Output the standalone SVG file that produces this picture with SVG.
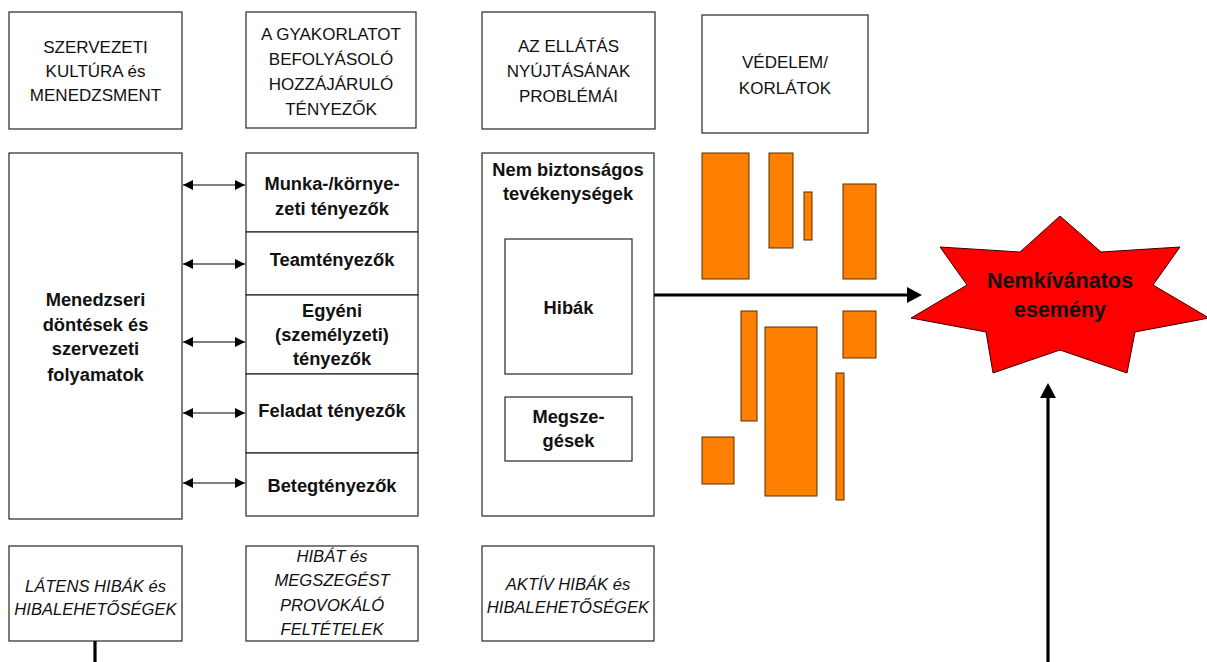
<svg xmlns="http://www.w3.org/2000/svg" width="1207" height="662" viewBox="0 0 1207 662">
  <defs>
    <style>
      .box { fill: #ffffff; stroke: #262626; stroke-width: 1.2; }
      .bar { fill: #ff8000; stroke: #5a2e00; stroke-width: 1; }
      .star { fill: #ff0000; stroke: #3a0000; stroke-width: 1; }
      .hd { font-family: "Liberation Sans", Arial, sans-serif; font-size: 17px; fill: #111; text-anchor: middle; }
      .bd { font-family: "Liberation Sans", Arial, sans-serif; font-size: 18.3px; font-weight: bold; fill: #111; text-anchor: middle; }
      .it { font-family: "Liberation Sans", Arial, sans-serif; font-size: 16.6px; font-style: italic; fill: #111; text-anchor: middle; }
      .big { font-family: "Liberation Sans", Arial, sans-serif; font-size: 21.5px; font-weight: bold; fill: #111; text-anchor: middle; }
      .thin { stroke: #000; stroke-width: 1.2; fill: none; }
      .thick { stroke: #000; stroke-width: 3.2; fill: none; }
    </style>
    <marker id="tipSmall" viewBox="0 0 10 10" refX="10" refY="5" markerWidth="10" markerHeight="10" markerUnits="userSpaceOnUse" orient="auto-start-reverse">
      <path d="M0,0 L10,5 L0,10 Z" fill="#000"/>
    </marker>
    <marker id="tipBig" viewBox="0 0 15 16" refX="0" refY="8" markerWidth="15" markerHeight="16" markerUnits="userSpaceOnUse" orient="auto">
      <path d="M0,0 L15,8 L0,16 Z" fill="#000"/>
    </marker>
  </defs>

  <rect width="1207" height="662" fill="#ffffff"/>

  <!-- column headers -->
  <g id="hdr-culture">
    <rect class="box" x="9" y="12" width="173" height="117"/>
    <text class="hd" x="95.5" y="53">SZERVEZETI</text>
    <text class="hd" x="95.5" y="77">KULTÚRA és</text>
    <text class="hd" x="95.5" y="101">MENEDZSMENT</text>
  </g>
  <g id="hdr-factors">
    <rect class="box" x="246" y="12" width="170" height="116"/>
    <text class="hd" x="331" y="40">A GYAKORLATOT</text>
    <text class="hd" x="331" y="65">BEFOLYÁSOLÓ</text>
    <text class="hd" x="331" y="90">HOZZÁJÁRULÓ</text>
    <text class="hd" x="331" y="115">TÉNYEZŐK</text>
  </g>
  <g id="hdr-delivery">
    <rect class="box" x="482" y="12" width="173" height="117"/>
    <text class="hd" x="568.5" y="52">AZ ELLÁTÁS</text>
    <text class="hd" x="568.5" y="77">NYÚJTÁSÁNAK</text>
    <text class="hd" x="568.5" y="102">PROBLÉMÁI</text>
  </g>
  <g id="hdr-defences">
    <rect class="box" x="702" y="15" width="166" height="118"/>
    <text class="hd" x="785" y="68">VÉDELEM/</text>
    <text class="hd" x="785" y="94">KORLÁTOK</text>
  </g>

  <!-- management decisions -->
  <g id="management">
    <rect class="box" x="9" y="153" width="173" height="366"/>
    <text class="bd" x="95.5" y="306">Menedzseri</text>
    <text class="bd" x="95.5" y="331">döntések és</text>
    <text class="bd" x="95.5" y="355">szervezeti</text>
    <text class="bd" x="95.5" y="381">folyamatok</text>
  </g>

  <!-- contributory factors stack -->
  <g id="f-work">
    <rect class="box" x="246" y="153" width="172" height="79"/>
    <text class="bd" x="332" y="190">Munka-/környe-</text>
    <text class="bd" x="332" y="215">zeti tényezők</text>
  </g>
  <g id="f-team">
    <rect class="box" x="246" y="232" width="172" height="63"/>
    <text class="bd" x="332" y="266">Teamtényezők</text>
  </g>
  <g id="f-individual">
    <rect class="box" x="246" y="295" width="172" height="79"/>
    <text class="bd" x="332" y="317">Egyéni</text>
    <text class="bd" x="332" y="341">(személyzeti)</text>
    <text class="bd" x="332" y="365">tényezők</text>
  </g>
  <g id="f-task">
    <rect class="box" x="246" y="374" width="172" height="79"/>
    <text class="bd" x="332" y="417">Feladat tényezők</text>
  </g>
  <g id="f-patient">
    <rect class="box" x="246" y="453" width="172" height="63"/>
    <text class="bd" x="332" y="492">Betegtényezők</text>
  </g>

  <!-- unsafe acts -->
  <g id="unsafe-acts">
    <rect class="box" x="482" y="153" width="172" height="363"/>
    <text class="bd" x="568" y="176">Nem biztonságos</text>
    <text class="bd" x="568" y="200">tevékenységek</text>
  </g>
  <g id="errors">
    <rect class="box" x="505" y="239" width="127" height="135"/>
    <text class="bd" x="568.5" y="314">Hibák</text>
  </g>
  <g id="violations">
    <rect class="box" x="505" y="397" width="127" height="64"/>
    <text class="bd" x="568.5" y="423">Megsze-</text>
    <text class="bd" x="568.5" y="447">gések</text>
  </g>

  <!-- defence barriers -->
  <g id="barriers">
    <rect class="bar" x="702" y="153" width="47" height="126"/>
    <rect class="bar" x="769" y="153" width="24" height="95"/>
    <rect class="bar" x="804" y="192" width="8" height="48"/>
    <rect class="bar" x="843" y="184" width="33" height="95"/>
    <rect class="bar" x="741" y="311" width="16" height="110"/>
    <rect class="bar" x="765" y="327" width="52" height="169"/>
    <rect class="bar" x="843" y="311" width="33" height="47"/>
    <rect class="bar" x="836" y="373" width="8" height="127"/>
    <rect class="bar" x="702" y="437" width="32" height="47"/>
  </g>

  <!-- adverse event -->
  <g id="adverse-event">
    <polygon class="star" points="1060,216 1101,252 1180,247 1153,285 1209,318 1135,332 1127,373 1060,350 993,373 986,332 911,318 967,285 940,247 1020,252"/>
    <text class="big" x="1060" y="288">Nemkívánatos</text>
    <text class="big" x="1060" y="317">esemény</text>
  </g>

  <!-- bottom labels -->
  <g id="lbl-latent">
    <rect class="box" x="9" y="546" width="173" height="95"/>
    <text class="it" x="95.5" y="592">LÁTENS HIBÁK és</text>
    <text class="it" x="95.5" y="615">HIBALEHETŐSÉGEK</text>
  </g>
  <g id="lbl-conditions">
    <rect class="box" x="246" y="546" width="172" height="95"/>
    <text class="it" x="332" y="562">HIBÁT és</text>
    <text class="it" x="332" y="586">MEGSZEGÉST</text>
    <text class="it" x="332" y="611">PROVOKÁLÓ</text>
    <text class="it" x="332" y="635">FELTÉTELEK</text>
  </g>
  <g id="lbl-active">
    <rect class="box" x="482" y="546" width="172" height="95"/>
    <text class="it" x="568" y="590">AKTÍV HIBÁK és</text>
    <text class="it" x="568" y="613">HIBALEHETŐSÉGEK</text>
  </g>

  <!-- connectors -->
  <g id="connectors">
    <line class="thin" x1="183" y1="185" x2="245" y2="185" marker-start="url(#tipSmall)" marker-end="url(#tipSmall)"/>
    <line class="thin" x1="183" y1="264" x2="245" y2="264" marker-start="url(#tipSmall)" marker-end="url(#tipSmall)"/>
    <line class="thin" x1="183" y1="342" x2="245" y2="342" marker-start="url(#tipSmall)" marker-end="url(#tipSmall)"/>
    <line class="thin" x1="183" y1="413" x2="245" y2="413" marker-start="url(#tipSmall)" marker-end="url(#tipSmall)"/>
    <line class="thin" x1="183" y1="483" x2="245" y2="483" marker-start="url(#tipSmall)" marker-end="url(#tipSmall)"/>
    <line class="thick" x1="654" y1="295" x2="907" y2="295" marker-end="url(#tipBig)"/>
    <line class="thick" x1="1048" y1="662" x2="1048" y2="398" marker-end="url(#tipBig)"/>
    <line class="thick" x1="95" y1="641" x2="95" y2="662"/>
  </g>
</svg>
